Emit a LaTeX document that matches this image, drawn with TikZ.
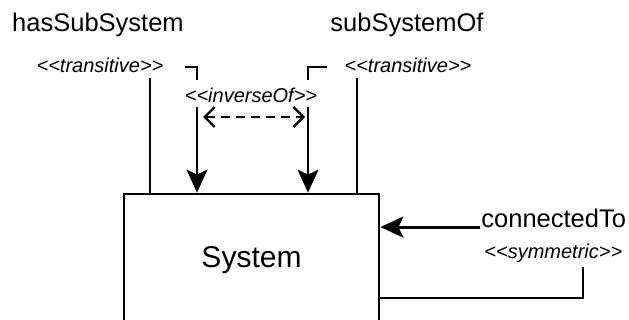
\documentclass[tikz,border=0pt]{standalone}
\usepackage{fontspec}
\setmainfont{Liberation Sans}
\usetikzlibrary{arrows.meta, positioning}
% guillemet-safe stereotype brackets
\newcommand{\stype}[1]{<\kern0pt<#1>\kern0pt>}

\begin{document}
\begin{tikzpicture}[x=1pt, y=-1pt,
      line width=2.8pt,
      prop/.style={font=\fontsize{25.5}{30}\selectfont, inner sep=0pt},
      stereo/.style={font=\fontsize{20}{24}\selectfont\itshape, inner sep=0pt},
      sysbox/.style={draw, minimum width=255pt, minimum height=132pt, font=\fontsize{30}{36}\selectfont},
      link/.style={-{Stealth[length=23pt 0, width=21pt 0, inset=5pt]}},
      inv/.style={line width=2.3pt, dash pattern=on 9pt off 6pt,
        {Straight Barb[length=10pt 0, width=20pt 0]}-{Straight Barb[length=10pt 0, width=20pt 0]}}]
    \useasboundingbox (0,0) rectangle (629,320);
    \clip (0,0) rectangle (629,320);

    % the class
    \node[sysbox] (sys) at (251.5,260) {System};

    % property names
    \node[prop] (has) at (98,25) {hasSubSystem};
    \node[prop] (subof) at (407,25) {subSystemOf};
    \node[prop, anchor=west] (conn) at (480,218) {connectedTo};

    % stereotypes
    \node[stereo] (transL) at (100,65) {\stype{transitive}};
    \node[stereo] (transR) at (408,65) {\stype{transitive}};
    \node[stereo] (inv) at (251,95) {\stype{inverseOf}};
    \node[stereo, anchor=west] (sym) at (483,253) {\stype{symmetric}};

    % bend and gap points
    \coordinate (hasTop) at (150,78);
    \coordinate (ofTop) at (357,78);
    \coordinate (brL) at (185,67);
    \coordinate (brR) at (327,67);
    \coordinate (gapL) at (197,80);
    \coordinate (gapR) at (308,80);
    \coordinate (downL) at (197,107);
    \coordinate (downR) at (308,107);
    \coordinate (dashL) at (203,117);
    \coordinate (dashR) at (305,117);
    \coordinate (symTop) at (583,267);
    \coordinate (symEnd) at (583,298);

    % connectors
    \draw (hasTop) -- (hasTop |- sys.north);
    \draw (ofTop) -- (ofTop |- sys.north);
    \draw (brL) -| (gapL);
    \draw (brR) -| (gapR);
    \draw[link] (downL) -- (downL |- sys.north);
    \draw[link] (downR) -- (downR |- sys.north);
    \draw[inv] (dashL) -- (dashR);
    \draw[link] (conn.base west) -- (conn.base west -| sys.east);
    \draw (symTop) -- (symEnd) -- (symEnd -| sys.east);
  \end{tikzpicture}
\end{document}
